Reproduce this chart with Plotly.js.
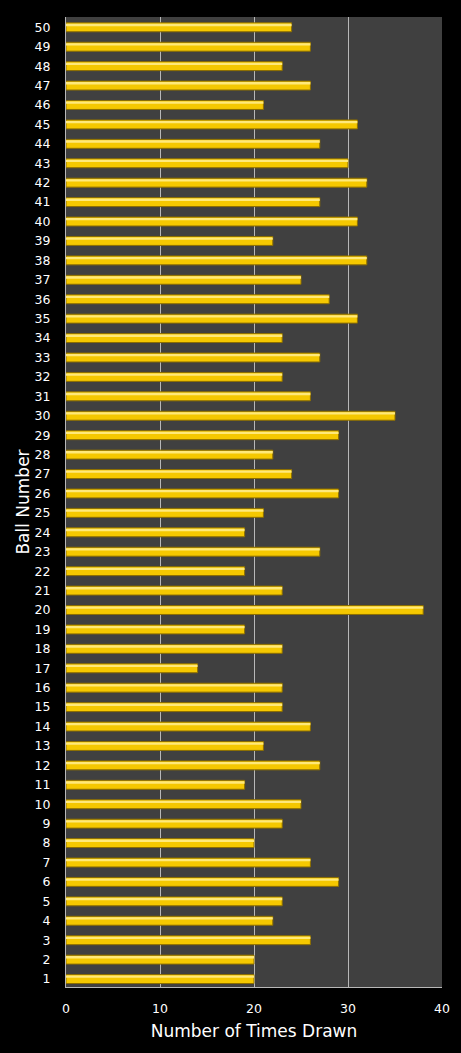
<!DOCTYPE html>
<html>
<head>
<meta charset="utf-8">
<script src="https://cdn.plot.ly/plotly-3.0.1.min.js"></script>
<style>
html,body{margin:0;padding:0;background:#000;}
#chart{width:461px;height:1053px;}
</style>
</head>
<body>
<div id="chart"></div>
<script>
var ballNumbers = [];
for (var i = 1; i <= 50; i++) ballNumbers.push(i);
var timesDrawn = [
  20, 20, 26, 22, 23, 29, 26, 20, 23, 25,
  19, 27, 21, 26, 23, 23, 14, 23, 19, 38,
  23, 19, 27, 19, 21, 29, 24, 22, 29, 35,
  26, 23, 27, 23, 31, 28, 25, 32, 22, 31,
  27, 32, 30, 27, 31, 21, 26, 23, 26, 24
];
var xTicks = [0, 10, 20, 30, 40];
var xTitle = 'Number of Times Drawn';
var yTitle = 'Ball Number';

var bars = {
  type: 'bar',
  orientation: 'h',
  x: timesDrawn,
  y: ballNumbers,
  width: 0.46,
  marker: {color: '#F5C800', line: {color: '#8C6E00', width: 1}},
  hoverinfo: 'x+y'
};
var highlight = {
  type: 'bar',
  orientation: 'h',
  x: timesDrawn,
  y: ballNumbers,
  width: 0.12,
  offset: 0.06,
  marker: {color: '#FFE97A', line: {width: 0}},
  hoverinfo: 'skip'
};

var layout = {
  width: 461,
  height: 1053,
  margin: {l: 66, r: 19, t: 17, b: 66},
  paper_bgcolor: '#000000',
  plot_bgcolor: '#404040',
  showlegend: false,
  barmode: 'overlay',
  font: {family: 'DejaVu Sans, Verdana, sans-serif', color: '#FFFFFF', size: 12},
  xaxis: {
    range: [0, 40],
    tickvals: xTicks,
    ticktext: xTicks.map(String),
    showgrid: true,
    gridcolor: '#B8B8B8',
    gridwidth: 1,
    zeroline: false,
    showline: true,
    linecolor: '#B8B8B8',
    linewidth: 1,
    ticks: 'outside',
    ticklen: 10,
    tickcolor: '#000000',
    tickfont: {size: 12.5, color: '#FFFFFF'},
    title: {text: xTitle, font: {size: 17, color: '#FFFFFF'}, standoff: 10},
    fixedrange: true
  },
  yaxis: {
    range: [0.59, 50.53],
    tickmode: 'array',
    tickvals: ballNumbers,
    ticktext: ballNumbers.map(String),
    showgrid: false,
    zeroline: false,
    showline: true,
    linecolor: '#B8B8B8',
    linewidth: 1,
    ticks: 'outside',
    ticklen: 12,
    tickcolor: '#000000',
    tickfont: {size: 12.5, color: '#FFFFFF'},
    title: {text: yTitle, font: {size: 17, color: '#FFFFFF'}, standoff: 0},
    fixedrange: true
  }
};

Plotly.newPlot('chart', [bars, highlight], layout, {displayModeBar: false, staticPlot: true});
</script>
</body>
</html>
